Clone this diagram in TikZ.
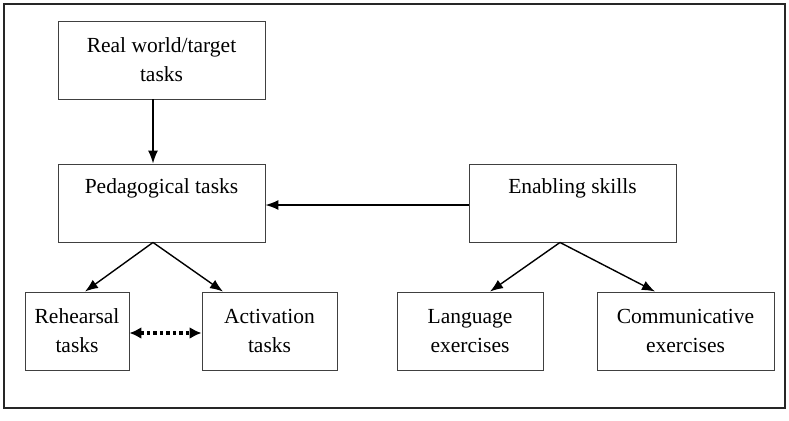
\documentclass[tikz,border=0pt]{standalone}
\usepackage{fontspec}
\setmainfont{Liberation Serif}
\usepackage{tikz}
\usetikzlibrary{arrows.meta, positioning, calc}
\tikzset{
  box/.style={draw=black!75, line width=0.9pt, rectangle, align=center, minimum height=78pt, inner sep=0pt},
  onebox/.style={box, text height=23pt, text depth=43pt},
  link/.style={-{Latex[length=13pt, width=10pt]}, line width=1.4pt},
  duallink/.style={{Latex[length=12pt, width=12pt]}-{Latex[length=12pt, width=12pt]}, line width=3.5pt, dash pattern=on 3.5pt off 3pt},
}

\begin{document}
\begin{tikzpicture}[x=1pt, y=-1pt, font=\fontsize{21.5}{29}\selectfont]
  \useasboundingbox (0,0) rectangle (789,420);
  \draw[line width=1.6pt, black!85] (4,4) rectangle (785,408);

  \node[box, minimum width=207pt] (real) at (161.5,60) {Real world/target\\tasks};
  \node[onebox, minimum width=207pt] (ped) at (161.5,203) {Pedagogical tasks};
  \node[onebox, minimum width=207pt] (enab) at (572.5,203) {Enabling skills};
  \node[box, minimum width=104pt] (reh) at (77,331) {Rehearsal\\tasks};
  \node[box, minimum width=135pt] (act) at (269.5,331) {Activation\\tasks};
  \node[box, minimum width=146pt] (lang) at (470,331) {Language\\exercises};
  \node[box, minimum width=177pt] (comm) at (685.5,331) {Communicative\\exercises};

  \draw[link] ($(real.south)+(-8.5,0)$) -- ($(ped.north)+(-8.5,0)$);
  \draw[link] ($(enab.west)+(0,2)$) -- ($(ped.east)+(0,2)$);
  \draw[link] ($(ped.south)+(-8.5,0)$) -- ($(reh.north)+(8,0)$);
  \draw[link] ($(ped.south)+(-8.5,0)$) -- ($(act.north)+(-46.5,0)$);
  \draw[link] ($(enab.south)+(-12.5,0)$) -- ($(lang.north)+(20,0)$);
  \draw[link] ($(enab.south)+(-12.5,0)$) -- ($(comm.north)+(-30.5,0)$);
  \draw[duallink] ($(reh.east)+(0,2)$) -- ($(act.west)+(0,2)$);
\end{tikzpicture}
\end{document}
